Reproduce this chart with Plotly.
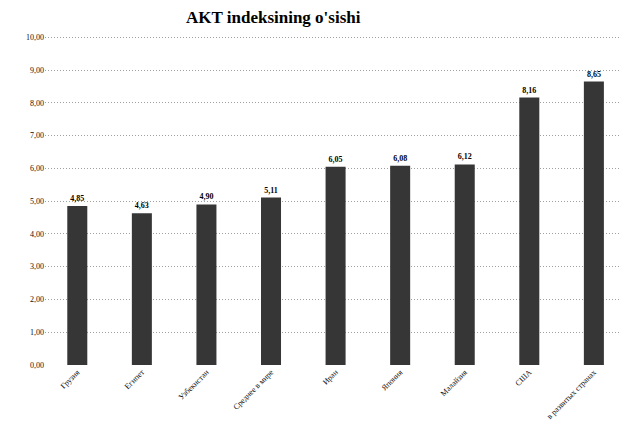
import plotly.graph_objects as go

# ICT index by country / group
categories = ["Грузия", "Египет", "Узбекистан", "Среднее в мире", "Иран",
              "Япония", "Малайзия", "США", "в развитых странах"]
values = [4.85, 4.63, 4.90, 5.11, 6.05, 6.08, 6.12, 8.16, 8.65]
y_ticks = [0, 1, 2, 3, 4, 5, 6, 7, 8, 9, 10]

serif = "Liberation Serif, serif"

fig = go.Figure(
    go.Bar(
        x=categories,
        y=values,
        marker=dict(color="#363636", line=dict(width=0)),
        texttemplate="<b>%{y:.2f}</b>",
        textposition="outside",
        textfont=dict(family=serif, size=8, color="#000"),
        cliponaxis=False,
    )
)

fig.update_layout(
    width=621,
    height=446,
    paper_bgcolor="white",
    plot_bgcolor="white",
    separators=", ",
    margin=dict(l=45, r=0, t=34, b=81),
    bargap=0.69,
    showlegend=False,
    title=dict(
        text="AKT indeksining o'sishi",
        x=0.44,
        xanchor="center",
        y=0.975,
        yanchor="top",
        font=dict(family=serif, size=17, color="#000", weight=600),
    ),
    font=dict(family=serif, size=8, color="#111"),
)

fig.update_yaxes(
    range=[0, 10.1],
    tickvals=y_ticks,
    tickformat=".2f",
    showgrid=True,
    gridcolor="#a0a0a0",
    griddash="1px,2px",
    gridwidth=1,
    zeroline=False,
    showline=False,
    ticks="",
    tickfont=dict(family=serif, size=8, color="#111"),
)

fig.update_xaxes(
    range=[-0.5, 8.42],
    tickangle=-45,
    showline=False,
    ticks="",
    tickfont=dict(family=serif, size=8, color="#111"),
)

fig.write_html("out.html")
